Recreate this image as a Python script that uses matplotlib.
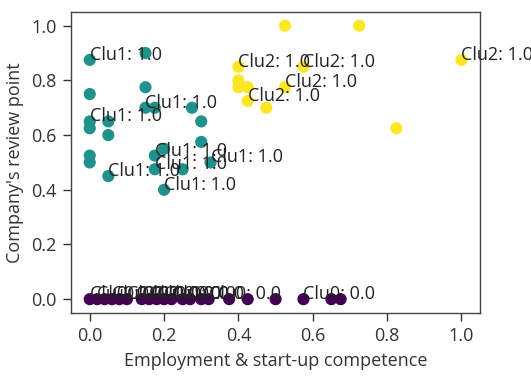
import matplotlib
matplotlib.use("Agg")
import matplotlib.pyplot as plt

plt.rcParams['font.family'] = ['Open Sans', 'DejaVu Sans']
plt.rcParams['font.size'] = 13

# cluster 0 (all on the bottom row)
clu0_x = [0.0, 0.02, 0.04, 0.06, 0.08, 0.1, 0.14, 0.16, 0.18, 0.2, 0.22,
          0.25, 0.27, 0.3, 0.32, 0.375, 0.425, 0.5, 0.575, 0.65, 0.675]
clu0_y = [0.0] * len(clu0_x)
clu0_lab = [1, 1, 0, 1, 0, 1, 1, 1, 1, 1, 1,
            0, 0, 0, 1, 0, 0, 0, 1, 0, 0]

# cluster 1
clu1_x = [0.0, 0.15, 0.0, 0.15, 0.15, 0.175, 0.275, 0.0, 0.0, 0.05, 0.05,
          0.3, 0.0, 0.0, 0.3, 0.05, 0.175, 0.2, 0.175, 0.25, 0.325, 0.2]
clu1_y = [0.875, 0.9, 0.75, 0.775, 0.7, 0.7, 0.7, 0.65, 0.625, 0.65, 0.6,
          0.65, 0.525, 0.5, 0.575, 0.45, 0.525, 0.55, 0.475, 0.475, 0.5, 0.4]
clu1_lab = [1, 0, 0, 0, 1, 0, 0, 1, 0, 0, 0,
            0, 0, 0, 0, 1, 1, 0, 1, 0, 1, 1]

# cluster 2
clu2_x = [0.525, 0.725, 0.4, 0.575, 0.4, 0.4, 0.425, 0.525, 0.425, 0.475, 0.825, 1.0]
clu2_y = [1.0, 1.0, 0.85, 0.85, 0.8, 0.775, 0.775, 0.775, 0.725, 0.7, 0.625, 0.875]
clu2_lab = [0, 0, 1, 1, 0, 0, 0, 1, 1, 0, 0, 1]

xs = clu0_x + clu1_x + clu2_x
ys = clu0_y + clu1_y + clu2_y
cl = [0] * len(clu0_x) + [1] * len(clu1_x) + [2] * len(clu2_x)
lab = clu0_lab + clu1_lab + clu2_lab
val = [0.0 if c == 0 else 1.0 for c in cl]

fig = plt.figure(figsize=(5.31, 3.76), dpi=100)
ax = fig.add_subplot(111)
fig.subplots_adjust(left=0.134, right=0.904, top=0.968, bottom=0.168)

ax.scatter(xs, ys, c=cl, cmap='viridis', s=60)
for x, y, c, l, v in zip(xs, ys, cl, lab, val):
    if l:
        ax.text(x, y, 'Clu%d: %.1f' % (c, v), color='#222222')

ax.set_xlabel('Employment & start-up competence', color='#333333', labelpad=5)
ax.set_ylabel("Company's review point", color='#333333', labelpad=5)
ax.tick_params(colors='#333333', length=5.5, width=1.0, pad=5)
for sp in ax.spines.values():
    sp.set_color('#444444')
    sp.set_linewidth(1.0)

fig.savefig('out.png', dpi=100)
